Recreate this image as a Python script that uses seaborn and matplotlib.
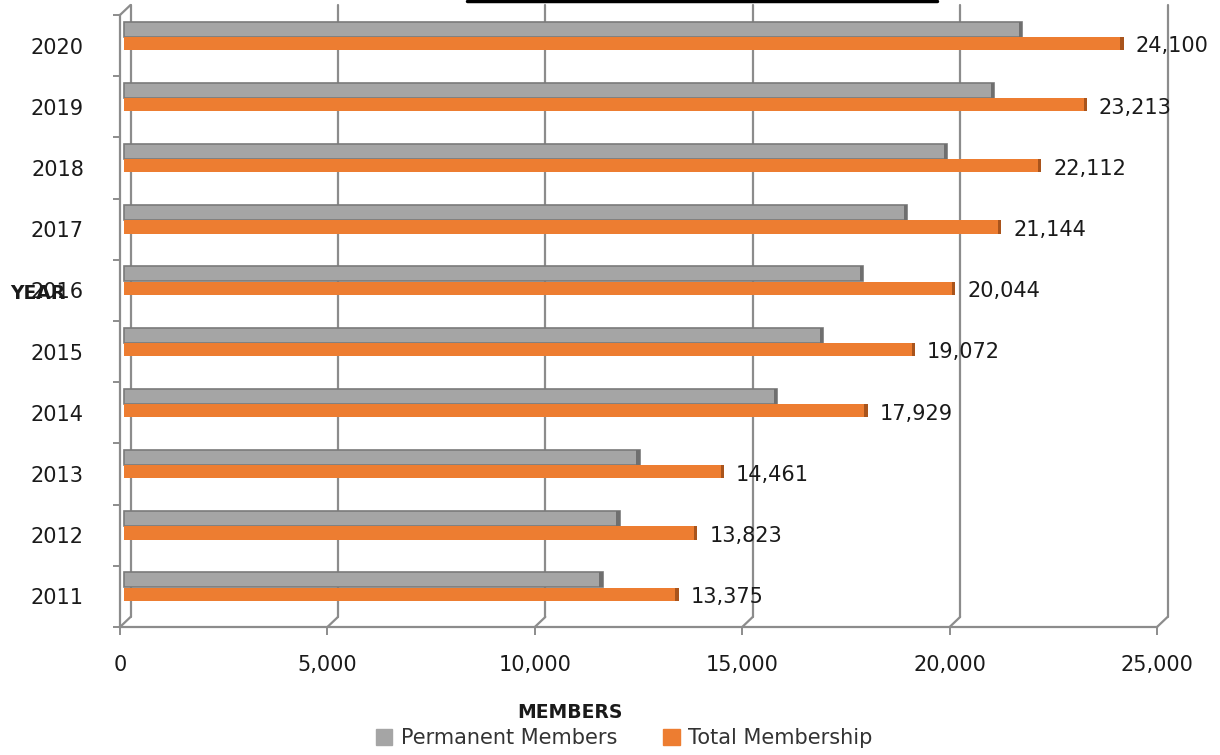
import pandas as pd
import seaborn as sns
import matplotlib.pyplot as plt
from matplotlib.lines import Line2D
from matplotlib.patches import Patch, Rectangle
from matplotlib.transforms import ScaledTranslation

years = ["2011", "2012", "2013", "2014", "2015", "2016", "2017", "2018", "2019", "2020"]
permanent = [11540, 11950, 12430, 15750, 16860, 17820, 18880, 19850, 20980, 21650]
total = [13375, 13823, 14461, 17929, 19072, 20044, 21144, 22112, 23213, 24100]
x_ticks = [0, 5000, 10000, 15000, 20000, 25000]

gray = "#a5a5a5"
orange = "#ed7d31"
grid_col = "#8c8c8c"

df = pd.DataFrame({
    "Year": years * 2,
    "Members": permanent + total,
    "Series": ["Permanent Members"] * len(years) + ["Total Membership"] * len(years),
})

sns.set_theme(style="white")
plt.rcParams["font.family"] = ["DejaVu Sans"]

fig = plt.figure(figsize=(12.2, 7.55), dpi=100)
ax = fig.add_axes([120 / 1220, 1 - 627 / 755, 1037 / 1220, 612 / 755])

order = years[::-1]
sns.barplot(data=df, x="Members", y="Year", hue="Series", order=order,
            palette=[gray, orange], orient="h", width=0.5, dodge=True,
            saturation=1, legend=False, ax=ax)

# nudge bars toward the back wall a little, like the 3D excel look
shift = ax.transData + ScaledTranslation(4 / 100, 0, fig.dpi_scale_trans)
n = len(years)
for i, p in enumerate(ax.patches[:2 * n]):
    is_gray = i < n
    c = p.get_y() + p.get_height() / 2
    h = 0.245 if is_gray else 0.215
    c = c - 0.145 if is_gray else c - 0.16
    p.set_y(c - h / 2)
    p.set_height(h)
    p.set_transform(shift)
    end = p.get_x() + p.get_width()
    if is_gray:
        p.set_edgecolor("#7a7a7a")
        p.set_linewidth(1.2)
        cap = Rectangle((end - 80, c - h / 2), 80, h, color="#6f6f6f", lw=0)
    else:
        p.set_edgecolor("none")
        cap = Rectangle((end - 80, c - h / 2), 80, h, color="#a9541c", lw=0)
    cap.set_transform(shift)
    ax.add_patch(cap)
    if not is_gray:
        ax.annotate(f"{int(p.get_width()):,}", (end, c), xytext=(16, -3),
                    textcoords="offset pixels", ha="left", va="center",
                    fontsize=15, color="#1a1a1a")

ax.set_xlim(0, 25000)
ax.set_ylim(9.5, -0.5)

# back wall gridlines with depth offset
dx = 10.5 / 1037
dy = 10 / 612
for t in x_ticks:
    xa = t / 25000
    ax.add_line(Line2D([xa + dx, xa + dx], [dy, 1 + dy], transform=ax.transAxes,
                       color=grid_col, lw=1.6, clip_on=False, zorder=0.5))
    ax.add_line(Line2D([xa, xa + dx], [0, dy], transform=ax.transAxes,
                       color=grid_col, lw=1.6, clip_on=False, zorder=0.5))
ax.add_line(Line2D([0, dx], [1, 1 + dy], transform=ax.transAxes,
                   color=grid_col, lw=1.6, clip_on=False))

for s in ["top", "right"]:
    ax.spines[s].set_visible(False)
for s in ["left", "bottom"]:
    ax.spines[s].set_color(grid_col)
    ax.spines[s].set_linewidth(1.6)

ax.set_xticks(x_ticks)
ax.set_xticklabels([f"{t:,}" for t in x_ticks])
ax.set_yticks(range(n))
ax.set_yticks([i - 0.5 for i in range(n + 1)], minor=True)
ax.tick_params(axis="x", bottom=True, length=6, width=1.4, color=grid_col,
               pad=14, labelsize=15, labelcolor="#1a1a1a")
ax.tick_params(axis="y", which="major", left=False, pad=20, labelsize=15,
               labelcolor="#1a1a1a")
ax.tick_params(axis="y", which="minor", left=True, length=5, width=1.4,
               color=grid_col)
ax.set_xlabel("")
ax.set_ylabel("")

fig.text(10 / 1220, 1 - 294 / 755, "YEAR", fontsize=13.5, fontweight="bold",
         ha="left", va="center", color="#1a1a1a")
fig.text(570 / 1220, 1 - 713 / 755, "MEMBERS", fontsize=13.5, fontweight="bold",
         ha="center", va="center", color="#1a1a1a")

handles = [Patch(color=gray, label="Permanent Members"),
           Patch(color=orange, label="Total Membership")]
fig.legend(handles=handles, loc="center", bbox_to_anchor=(624 / 1220, 1 - 738 / 755),
           ncol=2, frameon=False, fontsize=15, handlelength=0.8, handleheight=0.8,
           handletextpad=0.4, columnspacing=2.2, labelcolor="#333333")

# edge of the title box that sits above the chart
fig.add_artist(Line2D([467 / 1220, 937 / 1220], [1 - 1 / 755, 1 - 1 / 755],
                      color="black", lw=2.5))

fig.savefig("out.png", dpi=100)
